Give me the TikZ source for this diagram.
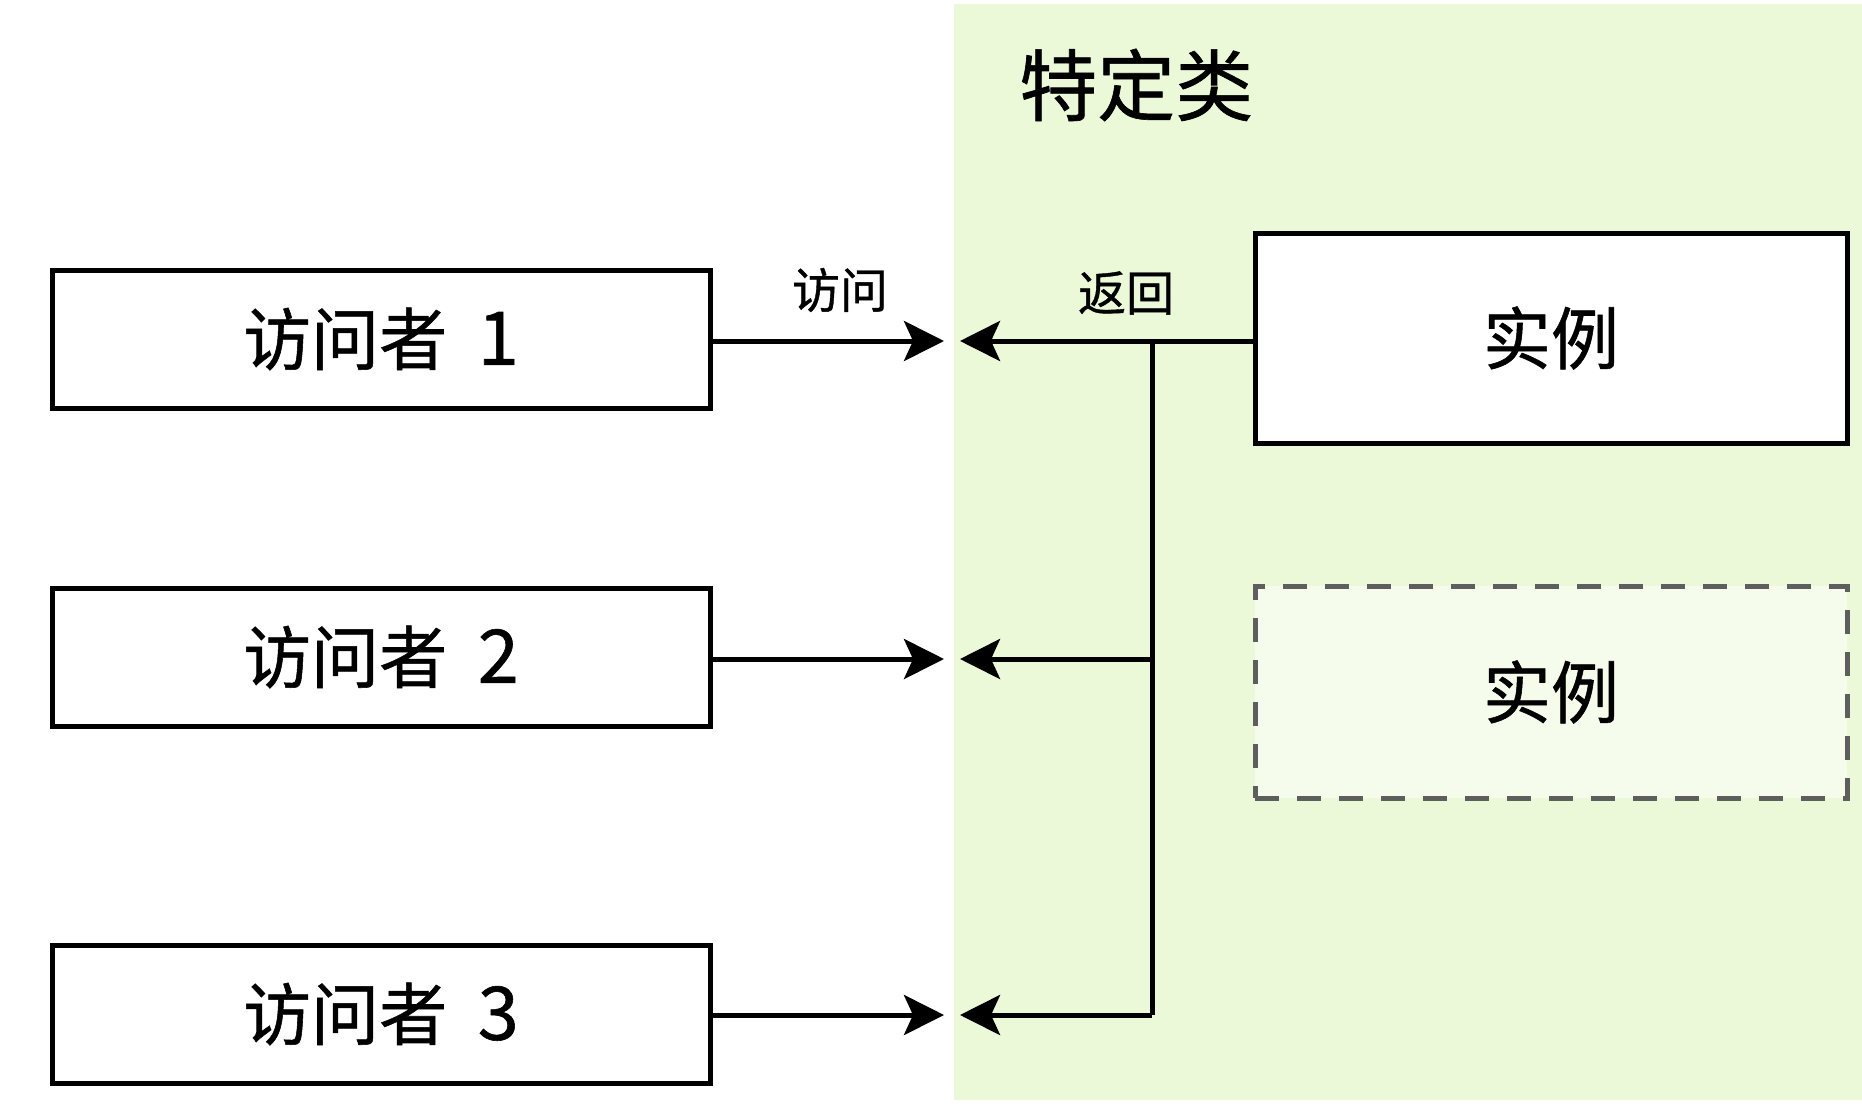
\documentclass[tikz,border=0pt]{standalone}
\usepackage{fontspec}
\newfontfamily\cjk{Noto Sans CJK SC}[FakeBold=0.8]
\usetikzlibrary{arrows.meta}
\definecolor{zone}{HTML}{ECF9D8}
\definecolor{ghostfill}{HTML}{F5FCEC}
\definecolor{ghostline}{HTML}{5E5E5E}
\tikzset{
  px/.style={x=1pt,y=-1pt},
  box/.style={draw=black,line width=5pt,fill=white,minimum width=658pt,minimum height=138pt,inner sep=0pt,font=\cjk\fontsize{68}{76}\selectfont},
  inst/.style={draw=black,line width=5pt,fill=white,minimum width=592pt,minimum height=210pt,inner sep=0pt,font=\cjk\fontsize{68}{76}\selectfont},
  ghost/.style={draw=ghostline,line width=5pt,dash pattern=on 24pt off 18pt,fill=ghostfill,minimum width=592pt,minimum height=212pt,inner sep=0pt,font=\cjk\fontsize{68}{76}\selectfont},
  arr/.style={line width=5pt,-{Stealth[length=40pt,width=40pt,inset=9pt]}},
  conn/.style={line width=5pt},
  lbl/.style={font=\cjk\fontsize{48}{54}\selectfont,inner sep=0pt},
  ttl/.style={font=\cjk\fontsize{78}{86}\selectfont,inner sep=0pt,anchor=west}
}
\begin{document}
\begin{tikzpicture}[px]
\useasboundingbox (0,0) rectangle (1862,1108);
\fill[white] (0,0) rectangle (1862,1108);
\fill[zone] (954,4) rectangle (1862,1100);
\node[ttl] (title) at (1019,85) {特定类};
\node[box] (v1) at (381,339) {访问者\hspace{0.45em}{\fontsize{74}{80}\selectfont 1}};
\node[box] (v2) at (381,657) {访问者\hspace{0.45em}{\fontsize{74}{80}\selectfont 2}};
\node[box] (v3) at (381,1014) {访问者\hspace{0.45em}{\fontsize{74}{80}\selectfont 3}};
\node[inst] (i1) at (1551,338) {实例};
\node[ghost] (i2) at (1551,692) {实例};
\coordinate (t1) at (944,341);
\coordinate (t2) at (944,659);
\coordinate (t3) at (944,1015);
\coordinate (r1) at (960,341);
\coordinate (r2) at (960,659);
\coordinate (r3) at (960,1015);
\coordinate (j1) at (1152,341);
\coordinate (j2) at (1152,659);
\coordinate (j3) at (1152,1015);
\draw[arr] (v1.east |- t1) -- (t1);
\draw[arr] (v2.east |- t2) -- (t2);
\draw[arr] (v3.east |- t3) -- (t3);
\draw[arr] (i1.west |- r1) -- (r1);
\draw[conn] (j1) -- (j3);
\draw[arr] (j2) -- (r2);
\draw[arr] (j3) -- (r3);
\node[lbl] (l1) at (840,290) {访问};
\node[lbl] (l2) at (1126,293) {返回};
\end{tikzpicture}
\end{document}
